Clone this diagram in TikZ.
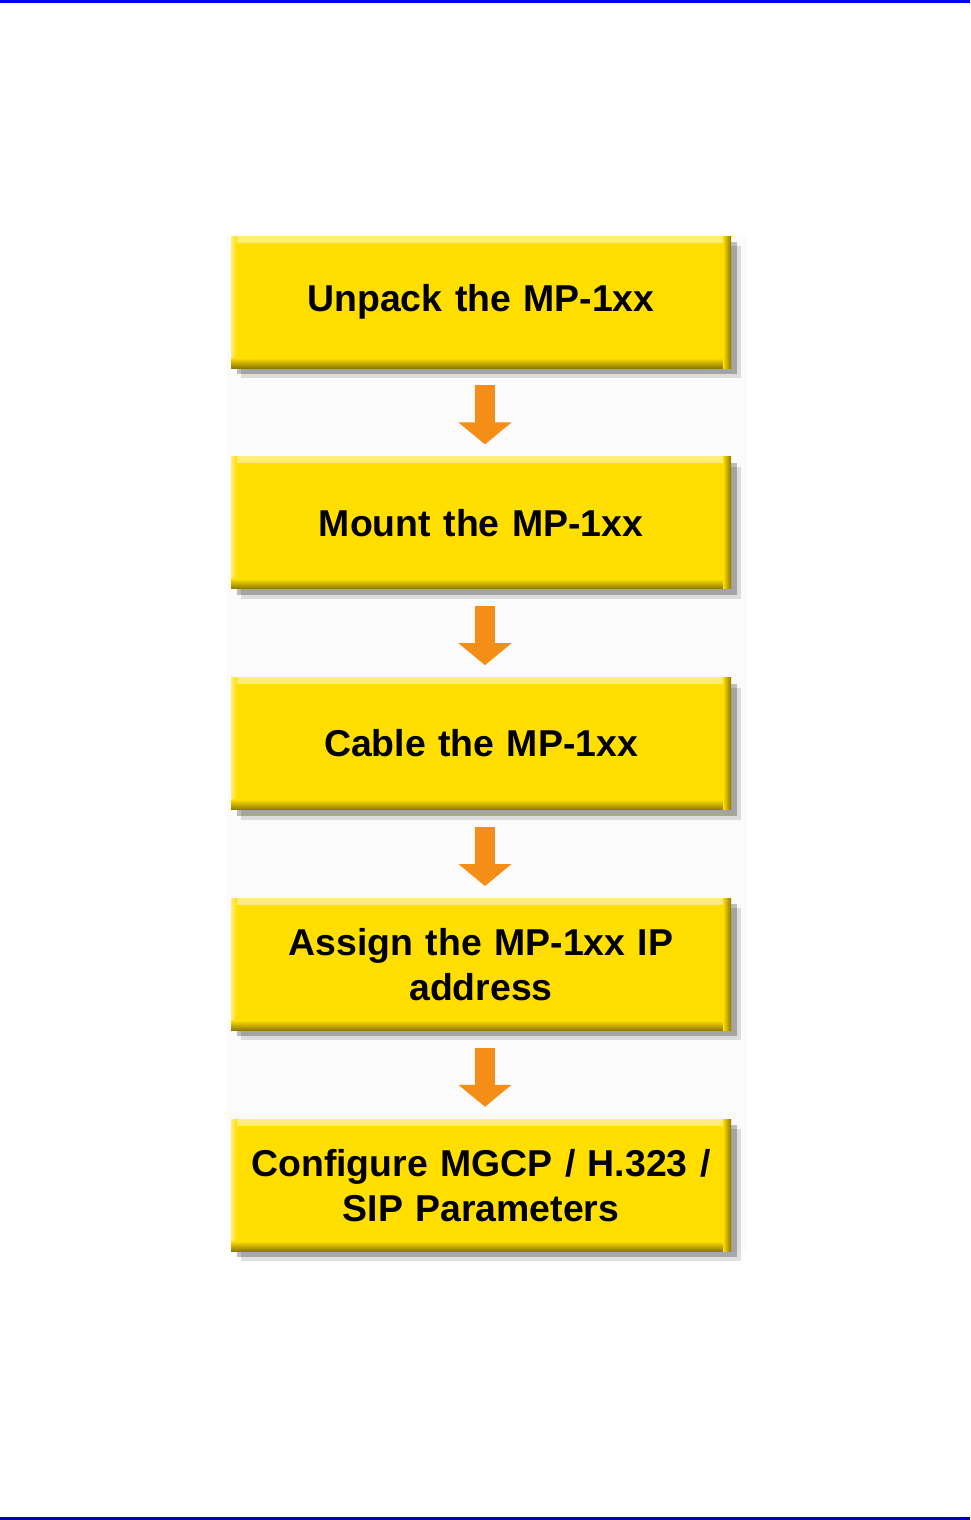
\documentclass[tikz,border=0pt]{standalone}
\usepackage{fontspec}
\setmainfont{Liberation Sans}
\usetikzlibrary{positioning, arrows.meta, shadows, backgrounds}
\definecolor{stepyellow}{RGB}{255,222,0}
\definecolor{stepdark}{RGB}{140,120,0}
\definecolor{steplight}{RGB}{255,238,120}
\definecolor{flowamber}{RGB}{245,142,22}
\definecolor{bandgray}{RGB}{251,251,251}
\definecolor{rulenavy}{RGB}{0,0,190}

\begin{document}
\begin{tikzpicture}[
    x=0.5pt, y=-0.5pt,
    node distance=44pt,
    stepbox/.style={fill=stepyellow, minimum width=250pt, minimum height=66pt,
        text width=236pt, align=center, inner sep=0pt,
        font=\fontsize{18.7}{22.5}\selectfont\bfseries,
        drop shadow={shadow xshift=5pt, shadow yshift=-5pt, opacity=.12, fill=black},
        drop shadow={shadow xshift=3pt, shadow yshift=-3pt, opacity=.25, fill=black},
        path picture={
          \shade[top color=steplight, bottom color=stepyellow]
            (path picture bounding box.north west) rectangle ([yshift=-3pt]path picture bounding box.north east);
          \shade[left color=steplight, right color=stepyellow]
            (path picture bounding box.north west) rectangle ([xshift=3pt]path picture bounding box.south west);
          \shade[top color=stepyellow, bottom color=stepdark]
            ([yshift=5pt]path picture bounding box.south west) rectangle (path picture bounding box.south east);
          \shade[left color=stepyellow, right color=stepdark]
            ([xshift=-4pt]path picture bounding box.north east) rectangle (path picture bounding box.south east);
        }},
    flow/.style={draw=flowamber, line width=10pt, shorten <=8.5pt, shorten >=6pt,
        -{Triangle[width=26pt, length=11pt]}},
]
\useasboundingbox (0,0) rectangle (970,1520);
\fill[blue] (0,0) rectangle (970,3);
\fill[rulenavy] (0,1517) rectangle (970,1520);

\node[stepbox] (unpack) at (481,302) {Unpack the MP-1xx};
\node[stepbox, below=of unpack] (mount) {Mount the MP-1xx};
\node[stepbox, below=of mount] (cable) {Cable the MP-1xx};
\node[stepbox, below=of cable] (assign) {Assign the MP-1xx IP\\address};
\node[stepbox, below=of assign] (config) {Configure MGCP / H.323 /\\SIP Parameters};

\begin{scope}[on background layer]
  \fill[bandgray] ([xshift=-2pt]unpack.north west) rectangle ([xshift=8pt]config.south east);
\end{scope}

\foreach \src/\dst in {unpack/mount, mount/cable, cable/assign, assign/config}
  \draw[flow] ([xshift=2pt]\src.south) -- ([xshift=2pt]\dst.north);
\end{tikzpicture}
\end{document}
